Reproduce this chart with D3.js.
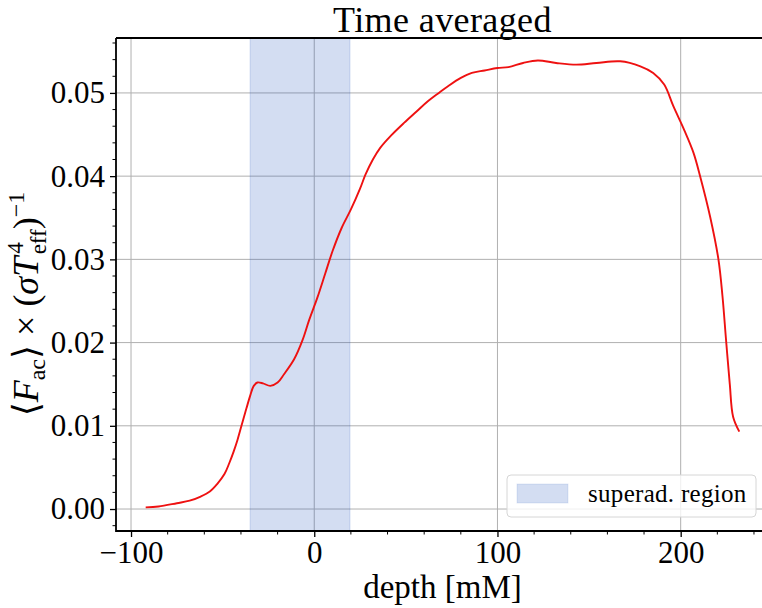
<!DOCTYPE html>
<html>
<head>
<meta charset="utf-8">
<script src="https://cdn.jsdelivr.net/npm/d3@7"></script>
<style>
  body { margin: 0; background: #fff; }
  svg { font-family: "Liberation Serif", "DejaVu Serif", serif; }
</style>
</head>
<body>
<svg id="chart" width="762" height="608"></svg>
<script>
// data
const depth = [-92, -85, -75, -68, -62, -57, -53, -49, -46.4, -44, -41.9, -39.1, -37, -35, -33, -31, -28, -24, -20,
  -16.5, -11, -6.4, -2.8, 1.7, 6, 10, 15, 20, 25, 28, 32, 36, 42, 49, 56, 62, 68, 73, 80, 86, 93, 100, 106, 114,
  122, 132, 143, 154, 167, 178, 185, 191, 196, 202, 207, 210.6, 216.1, 220.6, 222.8, 224.8, 226.8, 228.6, 232];
const flux = [0.0002, 0.0003, 0.0007, 0.0010, 0.0015, 0.0021, 0.0030, 0.0042, 0.0055, 0.0069, 0.0083, 0.0105,
  0.0121, 0.0136, 0.0148, 0.0152, 0.0151, 0.0148, 0.0152, 0.0162, 0.0180, 0.0203, 0.0227, 0.0254, 0.0283, 0.0310,
  0.0338, 0.0360, 0.0385, 0.0402, 0.0420, 0.0434, 0.0449, 0.0464, 0.0478, 0.0490, 0.0500, 0.0508, 0.0518, 0.0524,
  0.0527, 0.0530, 0.0531, 0.0536, 0.0539, 0.0536, 0.0534, 0.0536, 0.0538, 0.0532, 0.0524, 0.0510, 0.0484, 0.0455,
  0.0428, 0.0400, 0.0351, 0.0300, 0.0256, 0.0202, 0.0150, 0.0111, 0.0093];
const superadRegion = [-35, 19.5];
const xTicks = [-100, 0, 100, 200];
const yTicks = [0, 0.01, 0.02, 0.03, 0.04, 0.05];
const legendLabel = 'superad. region';

const svg = d3.select('#chart');

const margin = { top: 38, left: 116, bottom: 531, right: 769 };

const x = d3.scaleLinear().domain([-108.2, 248.2]).range([margin.left, margin.right]);
const y = d3.scaleLinear().domain([-0.00264, 0.0566]).range([margin.bottom, margin.top]);

const gridColor = '#b0b0b0';

// grid
svg.append('g')
  .selectAll('line')
  .data(xTicks)
  .enter()
  .append('line')
  .attr('x1', d => x(d)).attr('x2', d => x(d))
  .attr('y1', margin.top).attr('y2', margin.bottom)
  .attr('stroke', gridColor).attr('stroke-width', 1);

svg.append('g')
  .selectAll('line')
  .data(yTicks)
  .enter()
  .append('line')
  .attr('x1', margin.left).attr('x2', margin.right)
  .attr('y1', d => y(d)).attr('y2', d => y(d))
  .attr('stroke', gridColor).attr('stroke-width', 1);

// shaded region
const spanColor = '#2456c0';
svg.append('rect')
  .attr('x', x(superadRegion[0]))
  .attr('y', margin.top)
  .attr('width', x(superadRegion[1]) - x(superadRegion[0]))
  .attr('height', margin.bottom - margin.top)
  .attr('fill', spanColor)
  .attr('fill-opacity', 0.2)
  .attr('stroke', spanColor)
  .attr('stroke-opacity', 0.12)
  .attr('stroke-width', 1.5);

// line
const line = d3.line()
  .x(d => x(d[0]))
  .y(d => y(d[1]))
  .curve(d3.curveCatmullRom.alpha(0.5));

svg.append('path')
  .datum(depth.map((d, i) => [d, flux[i]]))
  .attr('fill', 'none')
  .attr('stroke', '#ee1111')
  .attr('stroke-width', 1.9)
  .attr('d', line);

// axes
const tickFont = '31px';

const xAxis = svg.append('g')
  .attr('transform', `translate(0,${margin.bottom})`)
  .call(d3.axisBottom(x).tickValues(xTicks).tickSize(6).tickPadding(4)
    .tickFormat(d => d < 0 ? '\u2212' + Math.abs(d) : d));
xAxis.append('g').call(g => g.selectAll('line')
  .data(d3.range(-100, 249, 20).filter(v => v % 100 !== 0))
  .enter().append('line')
  .attr('x1', d => x(d)).attr('x2', d => x(d))
  .attr('y1', 0).attr('y2', 3.5)
  .attr('stroke', '#000').attr('stroke-width', 1));

const yAxis = svg.append('g')
  .attr('transform', `translate(${margin.left},0)`)
  .call(d3.axisLeft(y).tickValues(yTicks).tickSize(6).tickPadding(5).tickFormat(d3.format('.2f')));
yAxis.append('g').call(g => g.selectAll('line')
  .data(d3.range(-0.002, 0.0566, 0.002).filter(v => Math.abs(Math.round(v * 100) - v * 100) > 1e-6))
  .enter().append('line')
  .attr('x1', 0).attr('x2', -3.5)
  .attr('y1', d => y(d)).attr('y2', d => y(d))
  .attr('stroke', '#000').attr('stroke-width', 1));

[xAxis, yAxis].forEach(ax => {
  ax.select('.domain').remove();
  ax.selectAll('.tick line').attr('stroke', '#000').attr('stroke-width', 1.3);
  ax.selectAll('.tick text')
    .attr('fill', '#000')
    .style('font-size', tickFont)
    .style('font-family', '"Liberation Serif", serif');
});

// spines (left, bottom, top)
svg.append('path')
  .attr('d', `M${margin.left},${margin.top}V${margin.bottom}H${margin.right}`)
  .attr('fill', 'none').attr('stroke', '#000').attr('stroke-width', 1.8);
svg.append('line')
  .attr('x1', margin.left).attr('x2', margin.right)
  .attr('y1', margin.top).attr('y2', margin.top)
  .attr('stroke', '#000').attr('stroke-width', 1.8);

// title
const cx = (margin.left + margin.right) / 2;
svg.append('text')
  .attr('x', cx).attr('y', 32)
  .attr('text-anchor', 'middle')
  .style('font-size', '36px')
  .style('letter-spacing', '0.4px')
  .text('Time averaged');

// x label
svg.append('text')
  .attr('x', cx).attr('y', 598)
  .attr('text-anchor', 'middle')
  .style('font-size', '33px')
  .text('depth [mM]');

// y label
const yl = svg.append('text')
  .attr('transform', 'translate(38,304) rotate(-90)')
  .attr('text-anchor', 'middle')
  .style('font-size', '36px');
yl.append('tspan').text('\u27E8');
yl.append('tspan').style('font-style', 'italic').text('F');
yl.append('tspan').attr('dy', 7).style('font-size', '24px').text('ac');
yl.append('tspan').attr('dy', -7).text('\u27E9 \u00D7 (');
yl.append('tspan').style('font-style', 'italic').text('\u03C3T');
yl.append('tspan').attr('dx', 3).attr('dy', -15).style('font-size', '23px').text('4');
yl.append('tspan').attr('dx', -12).attr('dy', 23).style('font-size', '23px').text('eff');
yl.append('tspan').attr('dy', -8).text(')');
yl.append('tspan').attr('dy', -14).style('font-size', '24px').text('\u22121');

// legend
const lgRight = x.range()[1] - 13;
const lgBottom = margin.bottom - 14;
const lg = svg.append('g');
lg.append('rect')
  .attr('x', 507).attr('y', lgBottom - 42)
  .attr('width', lgRight - 507).attr('height', 42)
  .attr('rx', 4)
  .attr('fill', '#fff').attr('fill-opacity', 0.8)
  .attr('stroke', '#d6d6d6').attr('stroke-width', 1);
lg.append('rect')
  .attr('x', 517).attr('y', lgBottom - 33)
  .attr('width', 51).attr('height', 19)
  .attr('fill', spanColor).attr('fill-opacity', 0.2)
  .attr('stroke', spanColor).attr('stroke-opacity', 0.12);
lg.append('text')
  .attr('x', 588).attr('y', lgBottom - 15)
  .style('font-size', '25px')
  .style('letter-spacing', '0.3px')
  .text(legendLabel);
</script>
</body>
</html>
